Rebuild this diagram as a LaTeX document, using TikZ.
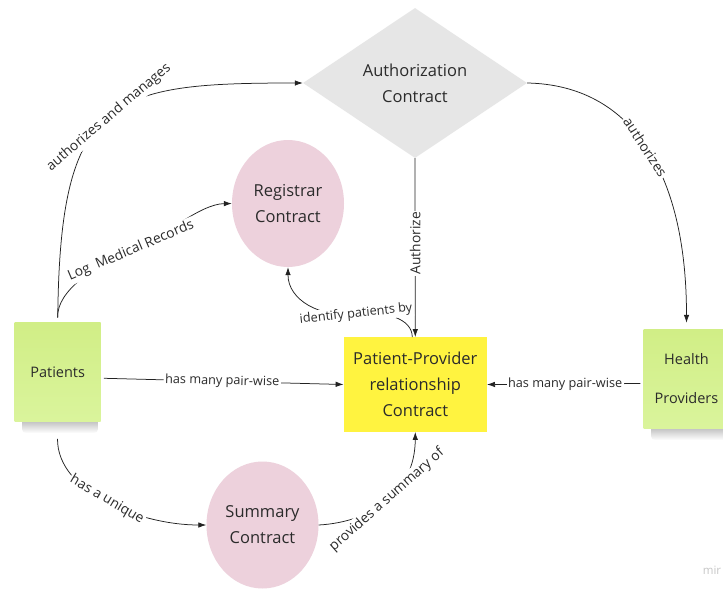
\documentclass[tikz,border=0pt]{standalone}
\usepackage{fontspec}
\setmainfont{Open Sans}
\usetikzlibrary{shapes.geometric,arrows.meta}
\definecolor{authgray}{HTML}{E6E6E6}
\definecolor{pinkc}{HTML}{EDD1DC}
\definecolor{yellowc}{HTML}{FFF340}
\definecolor{stickytop}{HTML}{D1EE86}
\definecolor{stickybot}{HTML}{DAF49C}
\definecolor{txtc}{HTML}{2B2B2B}
\definecolor{linec}{HTML}{222222}
\begin{document}
\begin{tikzpicture}[x=1pt,y=-1pt,
  bigtext/.style={font=\fontsize{16.5}{26}\selectfont, align=center, text=txtc},
  lab/.style={font=\fontsize{12.7}{15}\selectfont, fill=white, inner sep=1.5pt, text=txtc},
  biglab/.style={lab, font=\fontsize{13.8}{16}\selectfont},
  conn/.style={draw=linec, line width=0.75pt},
  arr/.style={conn, -{Latex[length=8pt,width=5.5pt]}},
  sticky/.style={rectangle, minimum width=86pt, minimum height=99pt, inner sep=0pt,
    top color=stickytop, bottom color=stickybot, text=txtc,
    font=\fontsize{14.5}{18}\selectfont, align=center},
  blob/.style={ellipse, fill=pinkc, minimum width=112pt, minimum height=127pt, inner sep=0pt, bigtext}
]
\useasboundingbox (0,0) rectangle (723,589);
\fill[white] (0,0) rectangle (723,589);

% shadows of stickies
\shade[top color=black!60, bottom color=white, opacity=0.5, rounded corners=4pt] (22,418) rectangle (98,433);
\shade[top color=black!60, bottom color=white, opacity=0.5, rounded corners=4pt] (651,425) rectangle (730,440);

% nodes
\node[diamond, fill=authgray, minimum width=224pt, minimum height=150pt, aspect=1.5,
      inner sep=0pt, bigtext] (auth) at (415,83) {Authorization\\Contract};
\node[blob] (reg) at (288,203.5) {Registrar\\Contract};
\node[blob] (sum) at (262.5,525) {Summary\\Contract};
\node[rectangle, fill=yellowc, minimum width=143pt, minimum height=94.5pt, inner sep=0pt,
      bigtext] (ppr) at (415.3,384.5) {Patient-Provider\\relationship\\Contract};
\node[sticky] (pat) at (57.7,372.2) {Patients};
\node[sticky, font=\fontsize{14.5}{39}\selectfont] (hp) at (686.5,378.5) {Health\\Providers};
\node[font=\fontsize{11.5}{13}\selectfont, text=black!22] (mir) at (712,570) {mir};

% connectors
\draw[arr, shorten <=5pt] (pat.north) .. controls (60,95) and (110,83) .. (auth.west)
  node[biglab, sloped, pos=0.5] {authorizes and manages};

\coordinate (lmr) at (131,251);
\draw[arr, shorten <=5pt] (pat.north) .. controls (57,290) and (95,266) .. (lmr)
  .. controls (165,236) and (200,204) .. (reg.west);
\node[biglab, rotate=23] (lmrlab) at (lmr) {Log\ \ Medical Records};

\draw[arr, shorten >=6pt] (auth.east) .. controls (630,85) and (686.5,170) .. (hp.north)
  node[biglab, sloped, pos=0.5] {authorizes};

\draw[arr] (auth.south) -- (ppr.north)
  node[biglab, pos=0.475, rotate=90] {Authorize};

\coordinate (idp) at (356,314);
\draw[arr] ([xshift=-3pt]ppr.north) .. controls (412,318) and (385,311) .. (idp)
  .. controls (320,318) and (288,300) .. (reg.south);
\node[lab, rotate=6] (idplab) at (idp) {identify patients by};

\draw[arr, shorten <=3pt] ([yshift=-6pt]pat.east) -- (ppr.west)
  node[lab, pos=0.5, sloped] {has many pair-wise};

\draw[arr, shorten <=3pt] ([yshift=-5pt]hp.west) -- (ppr.east)
  node[lab, pos=0.5] {has many pair-wise};

\draw[arr, shorten <=17pt] (pat.south) .. controls (57,492) and (140,525) .. (sum.west)
  node[biglab, sloped, pos=0.5] {has a unique};

\draw[arr] (sum.east) .. controls (372,522) and (415,492) .. (ppr.south)
  node[biglab, sloped, pos=0.5] {provides a summary of};
\end{tikzpicture}
\end{document}
